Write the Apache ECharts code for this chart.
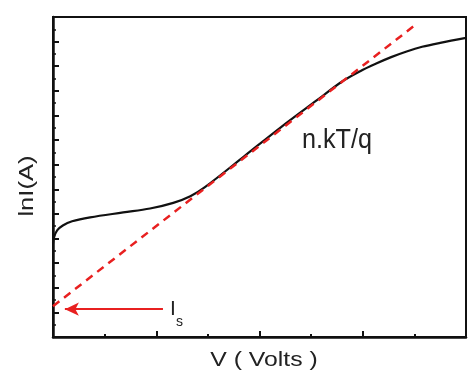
<!DOCTYPE html>
<html>
<head>
<meta charset="utf-8">
<script src="https://cdn.jsdelivr.net/npm/echarts@6/dist/echarts.min.js"></script>
<style>
  html, body { margin: 0; padding: 0; background: #fff; }
  #chart { width: 474px; height: 376px; }
</style>
</head>
<body>
<div id="chart"></div>
<script>
// measured I-V curve (ln I vs V), arbitrary units
var curveV   = [0, 0.02, 0.08, 0.19, 0.37, 0.72, 1.36, 1.88, 2.33, 2.66, 2.95, 3.72, 4.40, 5.10, 5.60, 5.95, 6.25, 6.55, 6.85, 7.15, 7.50, 8.0];
var curveLnI = [3.8, 4.05, 4.33, 4.53, 4.70, 4.86, 5.06, 5.22, 5.45, 5.72, 6.10, 7.37, 8.50, 9.60, 10.38, 10.80, 11.10, 11.37, 11.60, 11.79, 11.95, 12.15];

// linear fit (red dashed)
var fitV   = [0, 7.0];
var fitLnI = [1.25, 12.65];

// arrow pointing at Is
var arrowV   = [0.23, 2.13];
var arrowLnI = 1.13;

var chart = echarts.init(document.getElementById('chart'));

function pairs(xs, ys) {
    var out = [];
    for (var i = 0; i < xs.length; i++) {
        out.push([xs[i], ys[i]]);
    }
    return out;
}

var font = 'Liberation Sans, Arial, sans-serif';

var option = {
    animation: false,
    backgroundColor: '#fff',
    grid: {
        left: 53, right: 8, top: 17, bottom: 39,
        show: true, borderColor: '#111', borderWidth: 2
    },
    xAxis: {
        type: 'value', min: 0, max: 8, interval: 2,
        axisLine: { lineStyle: { color: '#111', width: 2.5 } },
        axisTick: { inside: true, length: 6, lineStyle: { color: '#111', width: 2 } },
        minorTick: { show: true, splitNumber: 2, length: 3, lineStyle: { color: '#111', width: 2 } },
        axisLabel: { show: false },
        splitLine: { show: false }
    },
    yAxis: {
        type: 'value', min: 0, max: 13, interval: 1,
        axisLine: { lineStyle: { color: '#111', width: 2.5 } },
        axisTick: { inside: true, length: 6, lineStyle: { color: '#111', width: 2 } },
        minorTick: { show: true, splitNumber: 2, length: 3, lineStyle: { color: '#111', width: 1.5 } },
        axisLabel: { show: false },
        splitLine: { show: false }
    },
    series: [{
        type: 'line',
        data: pairs(curveV, curveLnI),
        smooth: 0.35,
        symbol: 'none',
        lineStyle: { color: '#111', width: 2.2 },
        z: 3
    }, {
        type: 'line',
        data: pairs(fitV, fitLnI),
        symbol: 'none',
        lineStyle: { color: '#e82020', width: 2.5, type: [8, 6] },
        z: 4,
        markLine: {
            silent: true,
            symbol: ['arrow', 'none'],
            symbolSize: [10, 14],
            label: { show: false },
            lineStyle: { color: '#e82020', width: 2, type: 'solid' },
            data: [[
                { coord: [arrowV[0], arrowLnI] },
                { coord: [arrowV[1], arrowLnI] }
            ]]
        }
    }],
    graphic: [{
        // axis titles drawn as text so their width can follow the picture
        type: 'text', x: 264, y: 360, scaleX: 1.18,
        style: { text: 'V ( Volts )', fontSize: 21, fill: '#222', fontFamily: font,
                 textAlign: 'center', textVerticalAlign: 'middle' }
    }, {
        type: 'text', x: 27, y: 186, rotation: Math.PI / 2, scaleX: 1.22,
        style: { text: 'lnI(A)', fontSize: 21, fill: '#222', fontFamily: font,
                 textAlign: 'center', textVerticalAlign: 'middle' }
    }, {
        type: 'text', x: 337, y: 140, scaleX: 0.9,
        style: { text: 'n.kT/q', fontSize: 28, fill: '#222', fontFamily: font,
                 textAlign: 'center', textVerticalAlign: 'middle' }
    }, {
        type: 'text', left: 170, top: 299,
        style: { text: 'I', fontSize: 21, fill: '#222', fontFamily: font }
    }, {
        type: 'text', left: 176, top: 315,
        style: { text: 's', fontSize: 14, fill: '#222', fontFamily: font }
    }]
};

chart.setOption(option);
</script>
</body>
</html>
